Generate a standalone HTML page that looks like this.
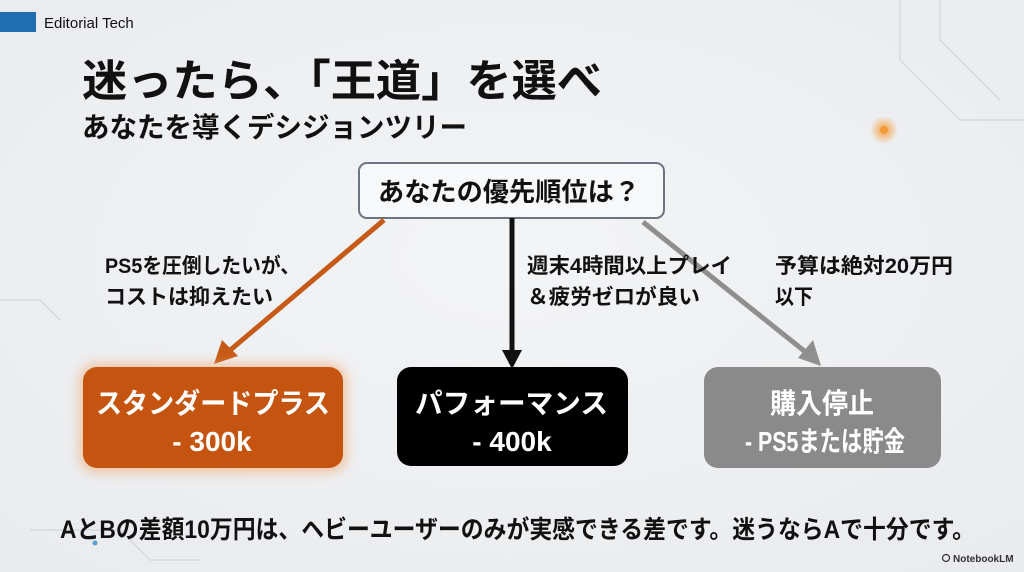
<!DOCTYPE html>
<html><head><meta charset="utf-8"><style>
html,body{margin:0;padding:0;background:#eef0f3;}
svg{display:block;}
text{font-family:"Liberation Sans","Noto Sans CJK JP",sans-serif;font-weight:bold;fill:#111;}
</style></head><body>
<svg width="1024" height="572" viewBox="0 0 1024 572" xmlns="http://www.w3.org/2000/svg">
<defs>
<radialGradient id="bg" cx="50%" cy="45%" r="70%"><stop offset="0" stop-color="#f3f4f6"/><stop offset="1" stop-color="#e9ebee"/></radialGradient>
<filter id="glow" x="-20%" y="-30%" width="140%" height="160%"><feGaussianBlur stdDeviation="6"/></filter>
<radialGradient id="dot" cx="50%" cy="50%" r="50%"><stop offset="0" stop-color="#f5a040"/><stop offset="1" stop-color="#f5a040" stop-opacity="0"/></radialGradient>
</defs>
<rect width="1024" height="572" fill="url(#bg)"/>
<!-- decorative circuit lines -->
<g stroke="#d6dade" stroke-width="1.5" fill="none">
<path d="M900 0 L900 60 L960 120 L1024 120"/>
<path d="M940 0 L940 40 L1000 100"/>
<path d="M0 300 L40 300 L60 320"/>
<path d="M30 530 L120 530 L150 560 L200 560"/>
</g>
<circle cx="884" cy="130" r="14" fill="url(#dot)"/>
<circle cx="884" cy="130" r="4" fill="#f29a3a"/>
<circle cx="95" cy="543" r="2.5" fill="#5aa0d0"/>
<!-- header -->
<rect x="0" y="12" width="36" height="20" fill="#1f6fb0"/>
<text x="44" y="28" font-size="15" font-weight="normal" style="font-weight:normal" fill="#5a6a7a">Editorial Tech</text>
<text x="82" y="96" font-size="44" textLength="520" lengthAdjust="spacingAndGlyphs">迷ったら、「王道」を選べ</text>
<text x="82" y="137" font-size="28" textLength="385" lengthAdjust="spacingAndGlyphs">あなたを導くデシジョンツリー</text>
<!-- question box -->
<rect x="359" y="163" width="305" height="55" rx="8" fill="#f7f8f9" stroke="#6b7480" stroke-width="2"/>
<text x="378" y="201" font-size="26" textLength="262" lengthAdjust="spacingAndGlyphs">あなたの優先順位は？</text>
<!-- arrows -->
<line x1="384" y1="220" x2="228" y2="352" stroke="#c65a18" stroke-width="5"/>
<polygon points="214,364 222,340 238,356" fill="#c65a18"/>
<line x1="512" y1="218" x2="512" y2="352" stroke="#111" stroke-width="5"/>
<polygon points="502,350 522,350 512,369" fill="#111"/>
<line x1="643" y1="222" x2="808" y2="354" stroke="#8f8f8f" stroke-width="5"/>
<polygon points="821,366 798,358 813,340" fill="#8f8f8f"/>
<!-- labels -->
<text x="105" y="273" font-size="21" textLength="195" lengthAdjust="spacingAndGlyphs">PS5を圧倒したいが、</text>
<text x="105" y="304" font-size="21" textLength="168" lengthAdjust="spacingAndGlyphs">コストは抑えたい</text>
<text x="527" y="273" font-size="21" textLength="205" lengthAdjust="spacingAndGlyphs">週末4時間以上プレイ</text>
<text x="527" y="304" font-size="21" textLength="173" lengthAdjust="spacingAndGlyphs">＆疲労ゼロが良い</text>
<text x="775" y="273" font-size="21" textLength="178" lengthAdjust="spacingAndGlyphs">予算は絶対20万円</text>
<text x="775" y="304" font-size="21" textLength="38" lengthAdjust="spacingAndGlyphs">以下</text>
<!-- result boxes -->
<rect x="80" y="364" width="266" height="108" rx="16" fill="#f3a060" opacity="0.6" filter="url(#glow)"/>
<rect x="83" y="367" width="260" height="101" rx="14" fill="#c4540f"/>
<text x="96" y="413" font-size="28" style="fill:#fff" textLength="234" lengthAdjust="spacingAndGlyphs">スタンダードプラス</text>
<text x="212" y="451" font-size="28" style="fill:#fff" text-anchor="middle">- 300k</text>
<rect x="397" y="367" width="231" height="99" rx="14" fill="#000"/>
<text x="415" y="413" font-size="28" style="fill:#fff" textLength="193" lengthAdjust="spacingAndGlyphs">パフォーマンス</text>
<text x="512" y="451" font-size="28" style="fill:#fff" text-anchor="middle">- 400k</text>
<rect x="704" y="367" width="237" height="101" rx="14" fill="#8a8a8a"/>
<text x="770" y="413" font-size="28" style="fill:#fff" textLength="104" lengthAdjust="spacingAndGlyphs">購入停止</text>
<text x="745" y="451" font-size="28" style="fill:#fff" textLength="160" lengthAdjust="spacingAndGlyphs">- PS5または貯金</text>
<!-- bottom -->
<text x="60" y="538" font-size="25" textLength="915" lengthAdjust="spacingAndGlyphs">AとBの差額10万円は、ヘビーユーザーのみが実感できる差です。迷うならAで十分です。</text>
<text x="953" y="562" font-size="10" style="fill:#333">NotebookLM</text>
<circle cx="946" cy="558" r="3.5" fill="none" stroke="#333" stroke-width="1.2"/>
</svg>
</body></html>
